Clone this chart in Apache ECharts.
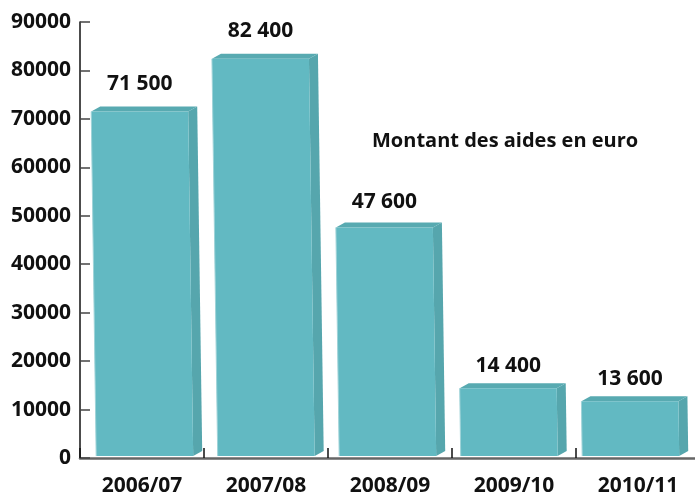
<!DOCTYPE html>
<html>
<head>
<meta charset="utf-8">
<script src="https://cdn.jsdelivr.net/npm/echarts@6/dist/echarts.min.js"></script>
<style>
html,body{margin:0;padding:0;background:#fff;}
#chart{width:695px;height:494px;}
</style>
</head>
<body>
<div id="chart"></div>
<script>
// Data
var categories = ['2006/07', '2007/08', '2008/09', '2009/10', '2010/11'];
// bar heights as drawn in the picture
var barValues = [71500, 82400, 47600, 14400, 11700];
// printed value labels
var valueLabels = ['71 500', '82 400', '47 600', '14 400', '13 600'];
var yTicks = [0, 10000, 20000, 30000, 40000, 50000, 60000, 70000, 80000, 90000];
var chartTitle = 'Montant des aides en euro';

var FONT = '"Open Sans", "Noto Sans", sans-serif';
var chart = echarts.init(document.getElementById('chart'), null, {renderer: 'canvas'});

function renderBar(params, api) {
  var i = api.value(0);
  var v = api.value(1);
  var base = api.coord([i, 0]);
  var top = api.coord([i, v]);
  var w = 97;
  var shift = 2.7 - 2.5 * i;
  var xc = base[0] + shift;
  var xl = xc - w / 2;
  var yb = base[1] - 2;
  var yt = top[1];
  var h = yb - yt;
  var lean = h * 0.0145;
  var dx = 9, dy = -5;
  var front = [[xl, yb], [xl + w, yb], [xl + w - lean, yt], [xl - lean, yt]];
  var side = [[xl + w, yb], [xl + w + dx, yb + dy], [xl + w - lean + dx, yt + dy], [xl + w - lean, yt]];
  var topF = [[xl - lean, yt], [xl + w - lean, yt], [xl + w - lean + dx, yt + dy], [xl - lean + dx, yt + dy]];
  var labelY = yt - (21 + 0.018 * h);
  return {
    type: 'group',
    children: [
      {type: 'polygon', shape: {points: side}, style: {fill: '#56a6ad'}},
      {type: 'polygon', shape: {points: topF}, style: {fill: '#58aab1'}},
      {type: 'polygon', shape: {points: front}, style: {fill: '#62b9c2'}},
      {type: 'polyline', shape: {points: [[xl, yb], [xl - lean, yt]]}, style: {stroke: '#9fd3d8', lineWidth: 1}},
      {type: 'text', style: {
        text: valueLabels[params.dataIndex],
        x: xl + w / 2 - lean, y: labelY,
        align: 'center', verticalAlign: 'middle',
        font: 'bold 21px ' + FONT, fill: '#111'
      }}
    ]
  };
}

var option = {
  animation: false,
  title: {
    text: chartTitle,
    left: 367, top: 126,
    textStyle: {fontFamily: FONT, fontWeight: 'bold', fontSize: 20, color: '#111'}
  },
  grid: {left: 80, right: -5, top: 22, bottom: 36, containLabel: false, outerBoundsMode: 'none'},
  xAxis: {
    type: 'category',
    data: categories,
    axisLine: {show: true, lineStyle: {color: '#666', width: 2.5}},
    axisTick: {show: true, inside: true, length: 10, lineStyle: {color: '#111', width: 1.5}},
    axisLabel: {margin: 18, fontFamily: FONT, fontWeight: 'bold', fontSize: 21, color: '#111'},
    splitLine: {show: false}
  },
  yAxis: {
    type: 'value',
    min: yTicks[0], max: yTicks[yTicks.length - 1], interval: yTicks[1] - yTicks[0],
    axisLine: {show: true, lineStyle: {color: '#111', width: 1.5}},
    axisTick: {show: true, inside: true, length: 10, lineStyle: {color: '#444', width: 1.5}},
    axisLabel: {
      margin: 9, fontFamily: FONT, fontWeight: 'bold', fontSize: 21, color: '#111',
      formatter: function (v) { return String(v); }
    },
    splitLine: {show: false}
  },
  series: [{
    type: 'custom',
    renderItem: renderBar,
    data: barValues.map(function (v, i) { return [i, v]; }),
    encode: {x: 0, y: 1},
    z: 1
  }]
};
chart.setOption(option);
</script>
</body>
</html>
